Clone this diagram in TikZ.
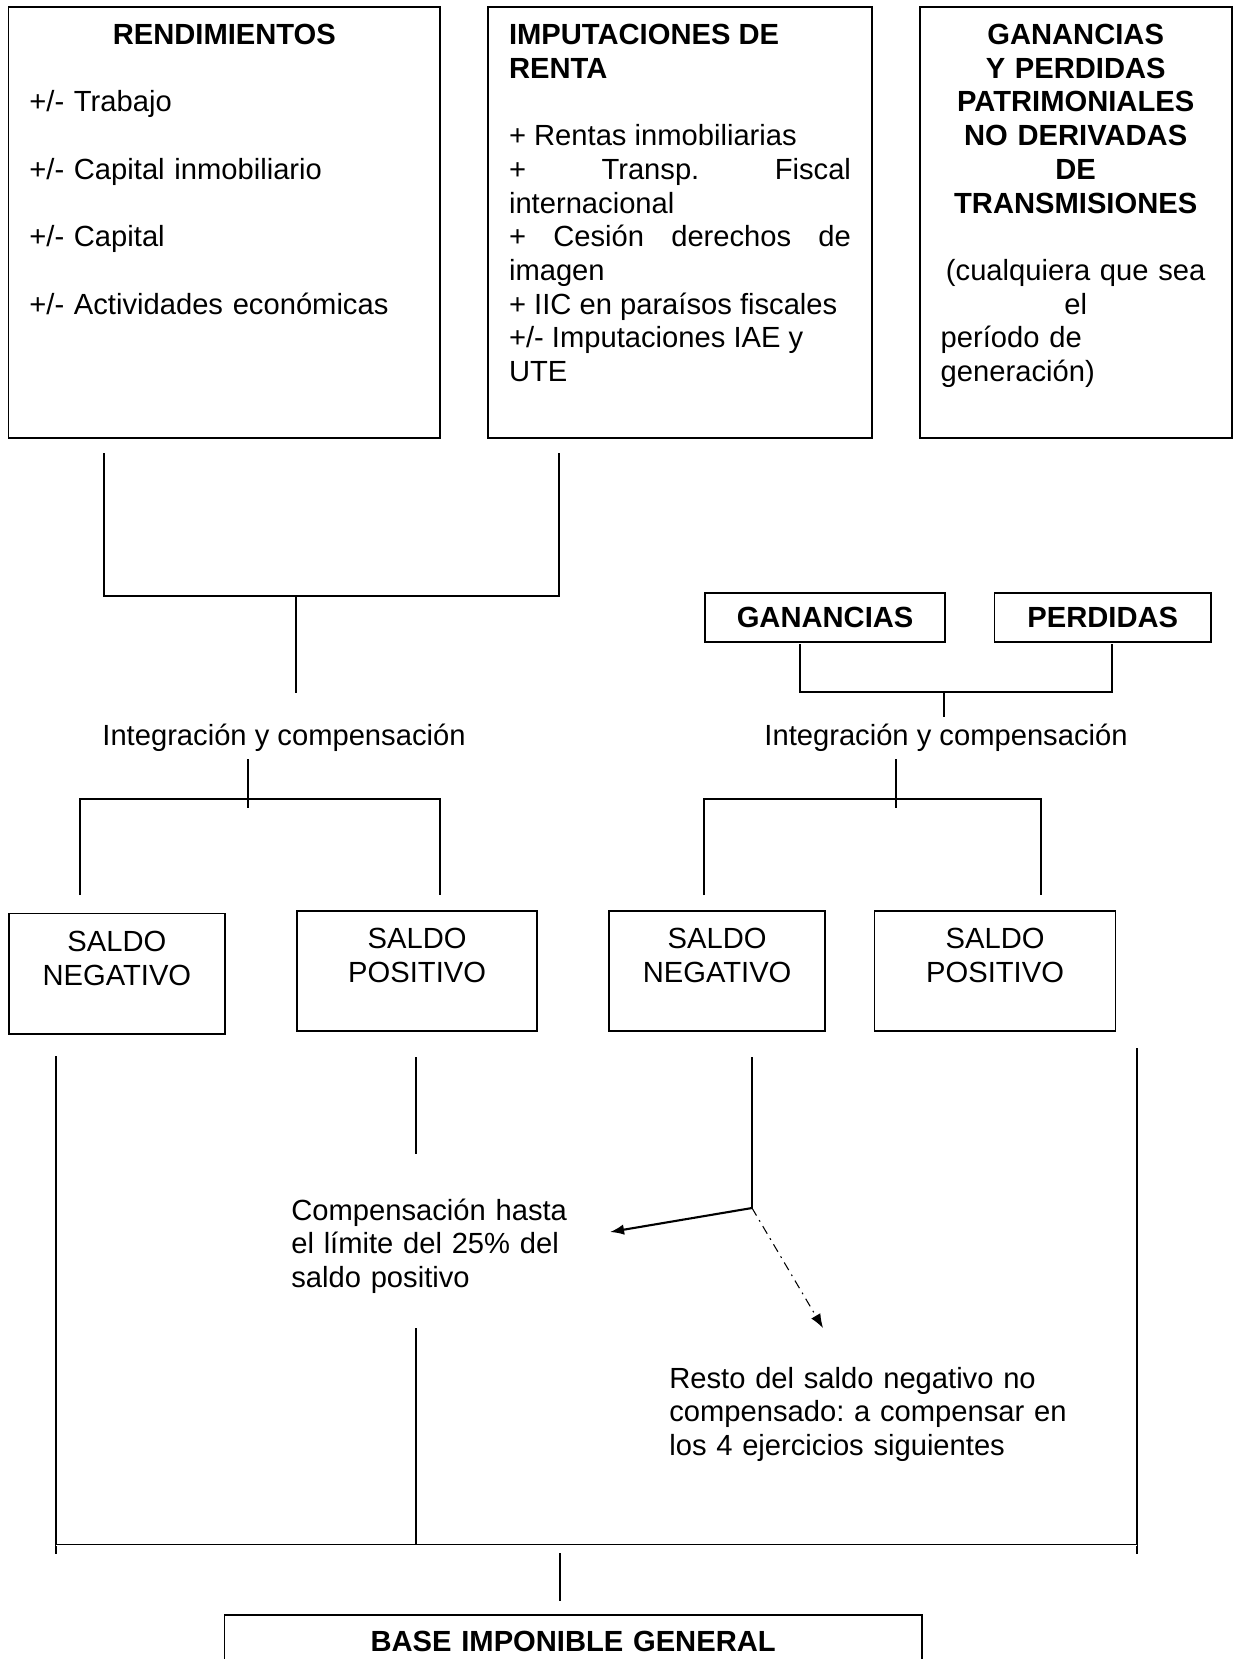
\documentclass[tikz,border=0pt]{standalone}
\usepackage{fontspec}
\setmainfont{Liberation Sans}
\usepackage{tikz}
\usetikzlibrary{positioning,arrows.meta}

\begin{document}
\begin{tikzpicture}[x=0.02cm, y=-0.02cm,
	every node/.style={font=\fontsize{16.6}{19.2}\selectfont\frenchspacing},
	bignode/.style={rectangle, draw, line width=1pt, anchor=north west, inner xsep=0.42cm, inner ysep=0.32cm, text height=0.42cm, text depth=7.55cm},
	saldonode/.style={rectangle, draw, line width=1pt, anchor=north west, inner xsep=0pt, inner ysep=0.34cm, text height=0.42cm, text depth=1.31cm, align=center},
	boldnode/.style={rectangle, draw, line width=1pt, anchor=north west, minimum height=0.97cm, text height=0.42cm, text depth=0pt, inner sep=0pt, font=\fontsize{16.6}{19.2}\selectfont\bfseries},
	plaintext/.style={inner sep=0pt},
	link/.style={line width=0.9pt},
	thinlink/.style={line width=0.6pt},
	]
	\useasboundingbox (0,0) rectangle (1234,1659);
	\clip (0,0) rectangle (1234,1659);

	%Nodes
	\node[bignode, text width=7.8cm, align=left] (rend) at (7.5,6.5)
		{{\centering\bfseries RENDIMIENTOS\par}\vspace{\baselineskip}
		+/- Trabajo\par\vspace{\baselineskip}
		+/- Capital inmobiliario\par\vspace{\baselineskip}
		+/- Capital\par\vspace{\baselineskip}
		+/- Actividades económicas};
	\node[bignode, text width=6.84cm, align=justify, right=0.92cm of rend.north east, anchor=north west] (imput)
		{{\bfseries IMPUTACIONES DE\\RENTA\par}\vspace{\baselineskip}
		+ Rentas inmobiliarias\par
		+ Transp. Fiscal\linebreak internacional\par
		+ Cesión derechos de\linebreak imagen\par
		+ IIC en paraísos fiscales\par
		+/- Imputaciones IAE y\\UTE};
	\node[bignode, text width=5.4cm, align=left, right=0.92cm of imput.north east, anchor=north west] (ganper)
		{{\centering\bfseries GANANCIAS\\Y PERDIDAS\\PATRIMONIALES\\NO DERIVADAS\\DE\\TRANSMISIONES\par}\vspace{\baselineskip}
		{\centering(cualquiera que sea\\el\par}
		período de\\generación)};

	\node[plaintext, anchor=base] (intL) at (284,745) {Integración y compensación};
	\node[saldonode, text width=4.32cm] (negL) at (8,912.7) {SALDO\\NEGATIVO};
	\node[saldonode, text width=4.81cm] (posL) at (296,910) {SALDO\\POSITIVO};

	\node[boldnode, minimum width=4.81cm] (gan) at (704,592.3) {GANANCIAS};
	\node[boldnode, minimum width=4.33cm, right=0.95cm of gan.north east, anchor=north west] (per) {PERDIDAS};
	\node[plaintext, anchor=base] (intR) at (946,745) {Integración y compensación};
	\node[saldonode, text width=4.33cm] (negR) at (608,910) {SALDO\\NEGATIVO};
	\node[saldonode, text width=4.82cm, right=0.95cm of negR.north east, anchor=north west] (posR) {SALDO\\POSITIVO};

	\node[plaintext, anchor=base west, text width=6cm, align=left] (comp) at (291,1220)
		{Compensación hasta\\el límite del 25\% del\\saldo positivo};
	\node[plaintext, anchor=base west, text width=10cm, align=left] (resto) at (669,1388)
		{Resto del saldo negativo no\\compensado: a compensar en\\los 4 ejercicios siguientes};
	\node[bignode, text width=13.11cm, align=center, text depth=1cm] (base) at (223.6,1614) {\bfseries BASE IMPONIBLE GENERAL};

	%Coordinates
	\coordinate (rend-out) at (104,453);
	\coordinate (imput-out) at (559,453);
	\coordinate (top-join) at (296,596);
	\coordinate (top-end) at (296,693);
	\coordinate (intL-out) at (248,759);
	\coordinate (intL-join) at (248,799);
	\coordinate (intL-end) at (248,808);
	\coordinate (negL-in) at (80,895);
	\coordinate (posL-in) at (440,895);

	\coordinate (gan-out) at (800,644);
	\coordinate (per-out) at (1112,644);
	\coordinate (gp-join) at (944,692);
	\coordinate (gp-end) at (944,717);
	\coordinate (intR-out) at (896,759);
	\coordinate (intR-join) at (896,799);
	\coordinate (intR-end) at (896,808);
	\coordinate (negR-in) at (704,895);
	\coordinate (posR-in) at (1041,895);

	\coordinate (negL-out) at (56,1056);
	\coordinate (posL-out) at (416,1057);
	\coordinate (posL-end) at (416,1154);
	\coordinate (comp-out) at (416,1328);
	\coordinate (negR-out) at (752,1057);
	\coordinate (split) at (752,1208);
	\coordinate (posR-out) at (1137,1048);
	\coordinate (sum-left) at (56,1545);
	\coordinate (sum-mid) at (416,1545);
	\coordinate (sum-right) at (1137,1545);
	\coordinate (sum-left-end) at (56,1554);
	\coordinate (sum-right-end) at (1137,1554);
	\coordinate (base-in) at (560,1553);
	\coordinate (base-end) at (560,1601);
	\coordinate (comp-tip) at (610,1232);
	\coordinate (resto-tip) at (823,1328);

	%Lines
	\draw[link] (rend-out) |- (top-join) -| (imput-out);
	\draw[link] (top-join) -- (top-end);
	\draw[link] (intL-out) -- (intL-end);
	\draw[link] (negL-in) |- (intL-join) -| (posL-in);

	\draw[link] (gan-out) |- (gp-join) -| (per-out);
	\draw[link] (gp-join) -- (gp-end);
	\draw[link] (intR-out) -- (intR-end);
	\draw[link] (negR-in) |- (intR-join) -| (posR-in);

	\draw[thinlink] (negL-out) -- (sum-left-end);
	\draw[thinlink] (posR-out) -- (sum-right-end);
	\draw[thinlink] (posL-out) -- (posL-end);
	\draw[thinlink] (comp-out) -- (sum-mid);
	\draw[thinlink] (negR-out) -- (split);
	\draw[line width=0.4pt, double, double distance=0.5pt] (sum-left) -- (sum-right);
	\draw[thinlink] (base-in) -- (base-end);

	%Arrows
	\draw[line width=1.2pt, -{Latex[length=8pt,width=6pt]}] (split) -- (comp-tip);
	\draw[thinlink, dash pattern=on 5pt off 3pt on 1pt off 3pt, -{Latex[length=8pt,width=6pt]}] (split) -- (resto-tip);

\end{tikzpicture}
\end{document}
